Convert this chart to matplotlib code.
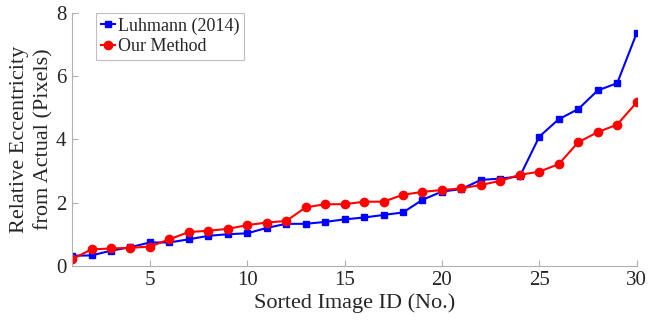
import matplotlib
matplotlib.use('Agg')
import matplotlib.pyplot as plt

plt.rcParams['font.family'] = ['Liberation Serif', 'DejaVu Serif']

# Sorted image IDs
image_ids = list(range(1, 31))

# Relative eccentricity (pixels)
luhmann = [0.32, 0.33, 0.48, 0.59, 0.74, 0.74, 0.84, 0.95, 1.00, 1.03,
           1.20, 1.33, 1.33, 1.39, 1.47, 1.53, 1.61, 1.69, 2.09, 2.35,
           2.43, 2.72, 2.76, 2.83, 4.09, 4.64, 4.96, 5.55, 5.78, 7.36]
our_method = [0.21, 0.52, 0.55, 0.57, 0.61, 0.84, 1.07, 1.11, 1.17, 1.29,
              1.37, 1.42, 1.85, 1.95, 1.95, 2.03, 2.03, 2.25, 2.34, 2.40,
              2.45, 2.56, 2.69, 2.88, 2.98, 3.22, 3.91, 4.23, 4.47, 5.17]

fig = plt.figure(figsize=(6.49, 3.25), dpi=100)
ax = fig.add_axes([0.111, 0.182, 0.870, 0.778])

ax.plot(image_ids, luhmann, color='#0000ff', marker='s', markersize=5,
        linewidth=1.5, label='Luhmann (2014)')
ax.plot(image_ids, our_method, color='#ff0000', marker='o', markersize=6,
        linewidth=1.5, label='Our Method')

ax.set_xlim(1, 30)
ax.set_ylim(0, 8)
ax.set_xticks([5, 10, 15, 20, 25, 30])
ax.set_yticks([0, 2, 4, 6, 8])

# MATLAB-like axes: only left/bottom, light gray, ticks inward
for side in ['top', 'right']:
    ax.spines[side].set_visible(False)
for side in ['left', 'bottom']:
    ax.spines[side].set_color('#b0b0b0')
    ax.spines[side].set_linewidth(0.8)

ax.tick_params(direction='in', length=4, width=0.8, color='#b0b0b0',
               labelsize=15, labelcolor='#262626', pad=4)

ax.set_xlabel('Sorted Image ID (No.)', fontsize=16, color='#262626', labelpad=2)
ax.set_ylabel('Relative Eccentricity\nfrom Actual (Pixels)', fontsize=16,
              color='#262626', labelpad=2, linespacing=1.3)

leg = ax.legend(loc='upper left', bbox_to_anchor=(0.043, 1.0), fontsize=13,
                frameon=True, fancybox=False, handlelength=0.8,
                handletextpad=0.15, borderpad=0.25, labelspacing=0.2,
                borderaxespad=0)
leg.get_frame().set_edgecolor('#b0b0b0')
leg.get_frame().set_linewidth(0.8)
for t in leg.get_texts():
    t.set_color('#262626')

plt.savefig('out.png', dpi=100, facecolor='white')
plt.close()
